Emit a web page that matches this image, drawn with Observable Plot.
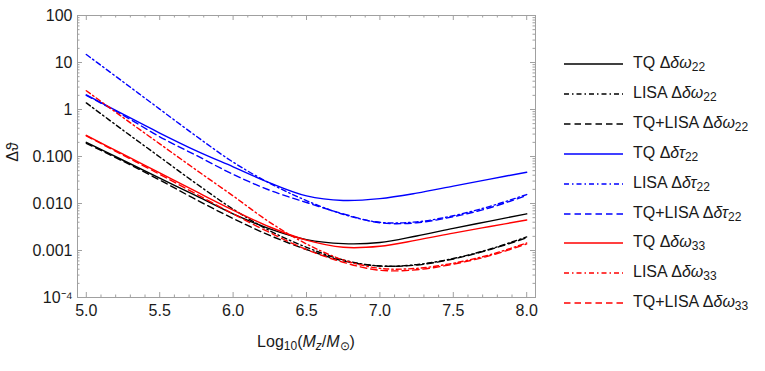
<!DOCTYPE html>
<html><head><meta charset="utf-8">
<script src="https://cdn.jsdelivr.net/npm/d3@7"></script>
<script src="https://cdn.jsdelivr.net/npm/@observablehq/plot@0.6"></script>
<style>
body{margin:0;background:#fff;font-family:"Liberation Sans",Arial,sans-serif;}
#wrap{position:relative;width:765px;height:371px;overflow:hidden;}
#chart{position:absolute;left:0;top:0;}
.leg{position:absolute;left:564px;height:20px;display:flex;align-items:center;font-size:16px;color:#1a1a1a;white-space:nowrap;}
.leg svg{margin-right:10px;display:block;}
.leg sub{font-size:12px;vertical-align:-3px;}
#xlab{position:absolute;left:206px;width:200px;text-align:center;top:333px;font-size:16px;color:#1a1a1a;}
#xlab sub{font-size:12px;vertical-align:-3px;}
#ylab{position:absolute;left:13px;top:152px;transform:translate(-50%,-50%) rotate(-90deg);font-size:16px;color:#1a1a1a;white-space:nowrap;}
</style></head>
<body>
<div id="wrap"><div id="chart"></div></div>
<script>
// ---- data ----
const massLog = [5.0, 5.25, 5.5, 5.75, 6.0, 6.25, 6.5, 6.75, 7.0, 7.25, 7.5, 7.75, 8.0];
const tqOmega22    = [0.200, 0.0832, 0.0347, 0.0145, 0.00603, 0.00288, 0.00170, 0.00140, 0.00148, 0.00204, 0.00295, 0.00422, 0.00603];
const lisaOmega22  = [1.38, 0.363, 0.0977, 0.0263, 0.00759, 0.00263, 0.00117, 0.000631, 0.000468, 0.000501, 0.000676, 0.00107, 0.00195];
const jointOmega22 = [0.191, 0.0794, 0.0316, 0.0120, 0.00479, 0.00209, 0.00105, 0.000603, 0.000468, 0.000490, 0.000661, 0.00105, 0.00186];
const tqTau22      = [2.04, 0.794, 0.316, 0.132, 0.0603, 0.0275, 0.0145, 0.0116, 0.0127, 0.0166, 0.0234, 0.0331, 0.0463];
const lisaTau22    = [14.8, 3.89, 1.02, 0.269, 0.0759, 0.0269, 0.0115, 0.00589, 0.00398, 0.00407, 0.00550, 0.00871, 0.0155];
const jointTau22   = [2.00, 0.759, 0.263, 0.105, 0.0417, 0.0191, 0.0105, 0.00603, 0.00389, 0.00389, 0.00525, 0.00813, 0.0148];
const tqOmega33    = [0.282, 0.112, 0.0447, 0.0178, 0.00724, 0.00316, 0.00166, 0.00117, 0.00123, 0.00166, 0.00234, 0.00324, 0.00447];
const lisaOmega33  = [2.51, 0.676, 0.186, 0.0513, 0.0145, 0.00398, 0.00138, 0.000631, 0.000417, 0.000417, 0.000537, 0.000813, 0.00145];
const jointOmega33 = [0.275, 0.107, 0.0417, 0.0158, 0.00603, 0.00240, 0.00105, 0.000562, 0.000380, 0.000389, 0.000513, 0.000776, 0.00138];

const detectors = ["TQ", "LISA", "TQ+LISA"];
const quantities = [["δω", "22"], ["δτ", "22"], ["δω", "33"]];
const seriesValues = [tqOmega22, lisaOmega22, jointOmega22, tqTau22, lisaTau22, jointTau22, tqOmega33, lisaOmega33, jointOmega33];

const xTicks = [5.0, 5.5, 6.0, 6.5, 7.0, 7.5, 8.0];
const yTicks = [1e-4, 1e-3, 1e-2, 1e-1, 1, 10, 100];
const yTickLabels = ["10⁻⁴", "0.001", "0.010", "0.100", "1", "10", "100"];

// ---- styles ----
const qColors = ["#000000", "#0000ff", "#ff0000"];
const dDash = [null, "5,3,1.5,3", "6.5,4"];

const W = 545, H = 371, mL = 77, mR = 10, mT = 15, mB = 74;
const innerW = W - mL - mR, innerH = H - mT - mB;
const frameColor = "#a0a0a0";

const yMinor = [];
for (let e = -4; e < 2; e++) for (let k = 2; k <= 9; k++) yMinor.push(k * Math.pow(10, e));
const xMinor = d3.range(50, 81).filter(i => i % 5 !== 0).map(i => i / 10);

const series = [];
quantities.forEach((q, qi) => detectors.forEach((d, di) => {
  series.push({det: d, q, color: qColors[qi], dash: dDash[di], values: seriesValues[qi * 3 + di]});
}));

const lineMarks = series.map(s =>
  Plot.line(massLog.map((m, i) => ({m, v: s.values[i]})), {
    x: "m", y: "v", stroke: s.color, strokeWidth: 1.4,
    strokeDasharray: s.dash || undefined, curve: "catmull-rom"
  })
);

const tick = (data, ch, opts) => (ch === "y" ? Plot.tickY : Plot.tickX)(data, {[ch]: d => d, stroke: frameColor, strokeWidth: 1, ...opts});

const chart = Plot.plot({
  width: W, height: H,
  marginLeft: mL, marginRight: mR, marginTop: mT, marginBottom: mB,
  style: {fontFamily: '"Liberation Sans", Arial, sans-serif', fontSize: "16px", color: "#1a1a1a", background: "transparent"},
  x: {domain: [4.94, 8.06]},
  y: {type: "log", domain: [1e-4, 100]},
  marks: [
    ...lineMarks,
    Plot.frame({stroke: frameColor}),
    tick(yTicks, "y", {insetRight: innerW - 5}),
    tick(yTicks, "y", {insetLeft: innerW - 5}),
    tick(yMinor, "y", {insetRight: innerW - 2.5}),
    tick(yMinor, "y", {insetLeft: innerW - 2.5}),
    tick(xTicks, "x", {insetTop: innerH - 5}),
    tick(xTicks, "x", {insetBottom: innerH - 5}),
    tick(xMinor, "x", {insetTop: innerH - 2.5}),
    tick(xMinor, "x", {insetBottom: innerH - 2.5}),
    Plot.axisY({ticks: yTicks, tickSize: 0, tickPadding: 5, fontSize: 16, label: null,
      tickFormat: d => yTickLabels[yTicks.indexOf(d)]}),
    Plot.axisX({ticks: xTicks, tickSize: 0, tickPadding: 7, fontSize: 16, label: null,
      tickFormat: d3.format(".1f")})
  ]
});
const wrap = document.getElementById("wrap");
document.getElementById("chart").appendChild(chart);

// axis titles
const xl = document.createElement("div");
xl.id = "xlab";
xl.innerHTML = 'Log<sub>10</sub>(<i>M<sub>z</sub></i>/<i>M</i><sub>⊙</sub>)';
wrap.appendChild(xl);
const yl = document.createElement("div");
yl.id = "ylab";
yl.textContent = "Δϑ";
wrap.appendChild(yl);

// legend
series.forEach((s, i) => {
  const row = document.createElement("div");
  row.className = "leg";
  row.style.top = (64 + i * 29.9 - 10) + "px";
  const ns = "http://www.w3.org/2000/svg";
  const svg = document.createElementNS(ns, "svg");
  svg.setAttribute("width", 59); svg.setAttribute("height", 10);
  const ln = document.createElementNS(ns, "line");
  ln.setAttribute("x1", 0); ln.setAttribute("x2", 59);
  ln.setAttribute("y1", 5); ln.setAttribute("y2", 5);
  ln.setAttribute("stroke", s.color); ln.setAttribute("stroke-width", 1.4);
  if (s.dash) ln.setAttribute("stroke-dasharray", s.dash);
  svg.appendChild(ln);
  row.appendChild(svg);
  const t = document.createElement("span");
  t.innerHTML = s.det + " Δ<i>" + s.q[0] + "</i><sub>" + s.q[1] + "</sub>";
  row.appendChild(t);
  wrap.appendChild(row);
});
</script>
</body></html>
